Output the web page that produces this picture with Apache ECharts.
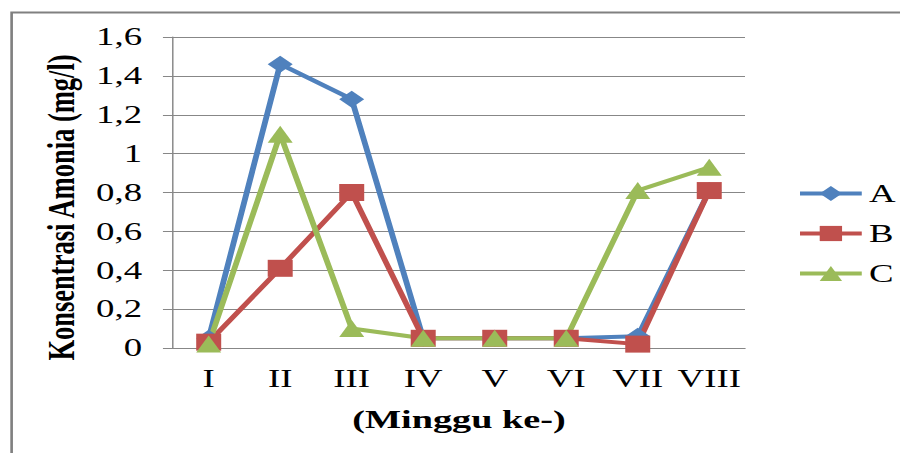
<!DOCTYPE html>
<html>
<head>
<meta charset="utf-8">
<script src="https://cdn.jsdelivr.net/npm/echarts@6/dist/echarts.min.js"></script>
<style>
html,body{margin:0;padding:0;background:#fff;overflow:hidden;}
#wrap{width:900px;height:453px;overflow:hidden;position:relative;}
#chart{width:612px;height:453px;transform:scaleX(1.4706);transform-origin:0 0;position:absolute;left:0;top:0;}
</style>
</head>
<body>
<div id="wrap"><div id="chart"></div></div>
<script>
const categories = ['I','II','III','IV','V','VI','VII','VIII'];
const seriesA = [0.05, 1.46, 1.28, 0.05, 0.05, 0.05, 0.06, 0.81];
const seriesB = [0.03, 0.41, 0.80, 0.05, 0.05, 0.05, 0.02, 0.81];
const seriesC = [0.02, 1.10, 0.10, 0.05, 0.05, 0.05, 0.81, 0.93];
const seriesNames = ['A','B','C'];
const yTicks = {min: 0, max: 1.6, interval: 0.2};

const serif = 'Liberation Serif, Times New Roman, serif';
const grey = '#878787';
const chart = echarts.init(document.getElementById('chart'), null, {renderer: 'svg'});
const mk = (name, data, color, symbol) => ({
  name, type: 'line', data, symbol, symbolSize: 17,
  lineStyle: {color, width: 4}, itemStyle: {color},
  animation: false, z: 3
});
chart.setOption({
  animation: false,
  backgroundColor: '#fff',
  graphic: [{
    type: 'rect', left: 5.4, top: 10, z: 0,
    shape: {width: 700, height: 500},
    style: {fill: 'none', stroke: '#808080', lineWidth: 1.8}
  }],
  grid: {left: 117.6, right: 105.4, top: 37, bottom: 105},
  legend: {
    orient: 'vertical', left: 537, top: 176,
    itemWidth: 42, itemHeight: 19, itemGap: 15,
    lineStyle: {width: 4},
    textStyle: {fontFamily: serif, fontSize: 25, color: '#000'},
    data: seriesNames
  },
  xAxis: {
    type: 'category', data: categories, boundaryGap: true,
    axisLine: {show: true, lineStyle: {color: grey, width: 1}},
    axisTick: {show: false},
    axisLabel: {fontFamily: serif, fontSize: 25, color: '#000', margin: 18, interval: 0},
    name: '(Minggu ke-)', nameLocation: 'middle', nameGap: 58,
    nameTextStyle: {fontFamily: serif, fontSize: 26, fontWeight: 'bold', color: '#000'}
  },
  yAxis: {
    type: 'value', min: yTicks.min, max: yTicks.max, interval: yTicks.interval,
    axisLine: {show: true, lineStyle: {color: grey, width: 1}},
    axisTick: {show: true, length: 6.8, lineStyle: {color: grey}},
    splitLine: {show: true, lineStyle: {color: grey, width: 1}},
    axisLabel: {
      fontFamily: serif, fontSize: 25, color: '#000', margin: 21,
      formatter: v => String(+v.toFixed(1)).replace('.', ',')
    },
    name: 'Konsentrasi Amonia (mg/l)', nameLocation: 'middle', nameGap: 55, nameRotate: 90,
    nameTextStyle: {fontFamily: serif, fontSize: 26.5, fontWeight: 'bold', color: '#000', padding: [0, 30, 0, 0]}
  },
  series: [
    mk(seriesNames[0], seriesA, '#4F81BD', 'diamond'),
    mk(seriesNames[1], seriesB, '#C0504D', 'rect'),
    mk(seriesNames[2], seriesC, '#9BBB59', 'triangle')
  ]
});
</script>
</body>
</html>
